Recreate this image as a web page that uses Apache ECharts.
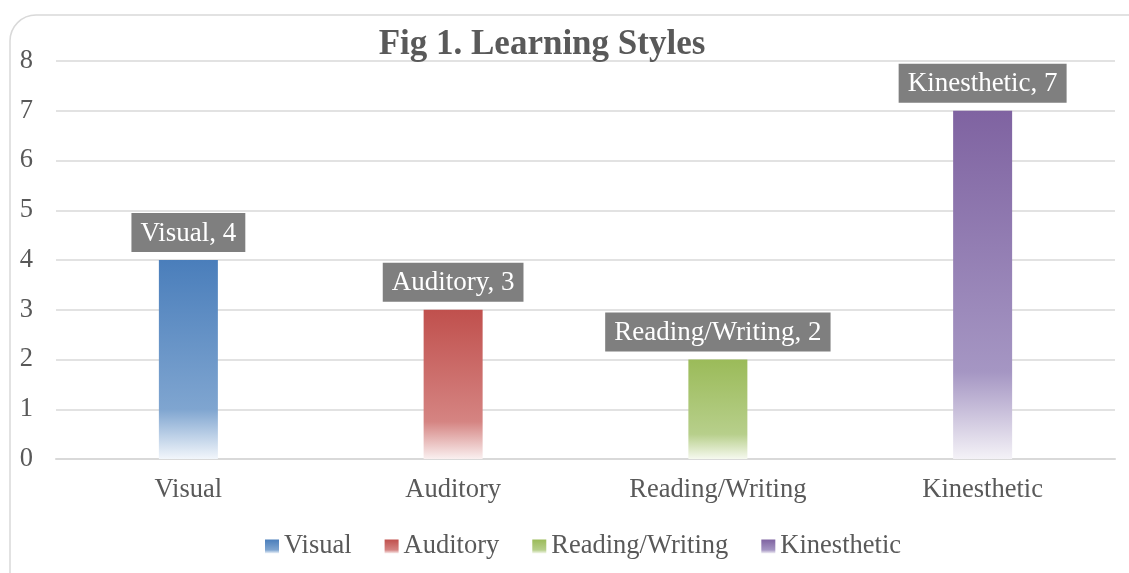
<!DOCTYPE html>
<html><head><meta charset="utf-8">
<script src="https://cdn.jsdelivr.net/npm/echarts@6/dist/echarts.min.js"></script>
<style>html,body{margin:0;padding:0;background:#fff}#c{width:1129px;height:573px}</style>
</head><body><div id="c"></div>
<script>
const categories = ['Visual', 'Auditory', 'Reading/Writing', 'Kinesthetic'];
const values = [4, 3, 2, 7];
const seriesNames = ['Visual', 'Auditory', 'Reading/Writing', 'Kinesthetic'];
const topColors = ['#4a7ebb', '#c0504d', '#9bbb59', '#7f63a1'];
const midColors = ['#7fa5d0', '#d58482', '#b7cf8b', '#a596c3'];
const endColors = ['#f2f6fb', '#faf0f0', '#f6f9ef', '#f4f2f7'];
const yTicks = [0, 8, 1];

const font = '"Liberation Serif", "Times New Roman", serif';
const chart = echarts.init(document.getElementById('c'), null, {renderer: 'canvas'});

function grad(i) {
  return new echarts.graphic.LinearGradient(0, 0, 0, 1, [
    {offset: 0, color: topColors[i]},
    {offset: 0.75, color: midColors[i]},
    {offset: 1, color: endColors[i]}
  ]);
}

const series = seriesNames.map((name, i) => ({
  name: name,
  type: 'bar',
  stack: 'all',
  barWidth: 59,
  data: categories.map((c, j) => (j === i ? values[i] : '-')),
  itemStyle: {color: grad(i)},
  label: {
    show: true,
    position: 'top',
    distance: 8,
    formatter: '{a}, {c}',
    color: '#ffffff',
    backgroundColor: '#7f7f7f',
    padding: [7, 9, 5, 9],
    fontFamily: font,
    fontSize: 27
  }
}));

chart.setOption({
  animation: false,
  graphic: [{
    type: 'rect',
    shape: {x: 10, y: 15, width: 1160, height: 600, r: 26},
    style: {fill: 'none', stroke: '#d9d9d9', lineWidth: 1.5},
    z: -1
  }],
  title: {
    text: 'Fig 1. Learning Styles',
    left: 537,
    textAlign: 'center',
    top: 22,
    textStyle: {fontFamily: font, fontSize: 35, fontWeight: 'bold', color: '#595959'}
  },
  legend: {
    data: seriesNames,
    icon: 'rect',
    left: 260,
    top: 528,
    itemWidth: 14,
    itemHeight: 14,
    itemGap: 33,
    textStyle: {fontFamily: font, fontSize: 26.5, color: '#595959'}
  },
  grid: {left: 56, right: 14, top: 61, bottom: 114},
  xAxis: {
    type: 'category',
    data: categories,
    axisLine: {lineStyle: {color: '#d9d9d9', width: 2}},
    axisTick: {show: false},
    axisLabel: {fontFamily: font, fontSize: 26.5, color: '#595959', margin: 18}
  },
  yAxis: {
    type: 'value',
    min: yTicks[0],
    max: yTicks[1],
    interval: yTicks[2],
    axisLine: {show: false},
    axisTick: {show: false},
    splitLine: {lineStyle: {color: '#d9d9d9', width: 1.5}},
    axisLabel: {fontFamily: font, fontSize: 26.5, color: '#595959', margin: 23}
  },
  series: series
});
</script></body></html>
